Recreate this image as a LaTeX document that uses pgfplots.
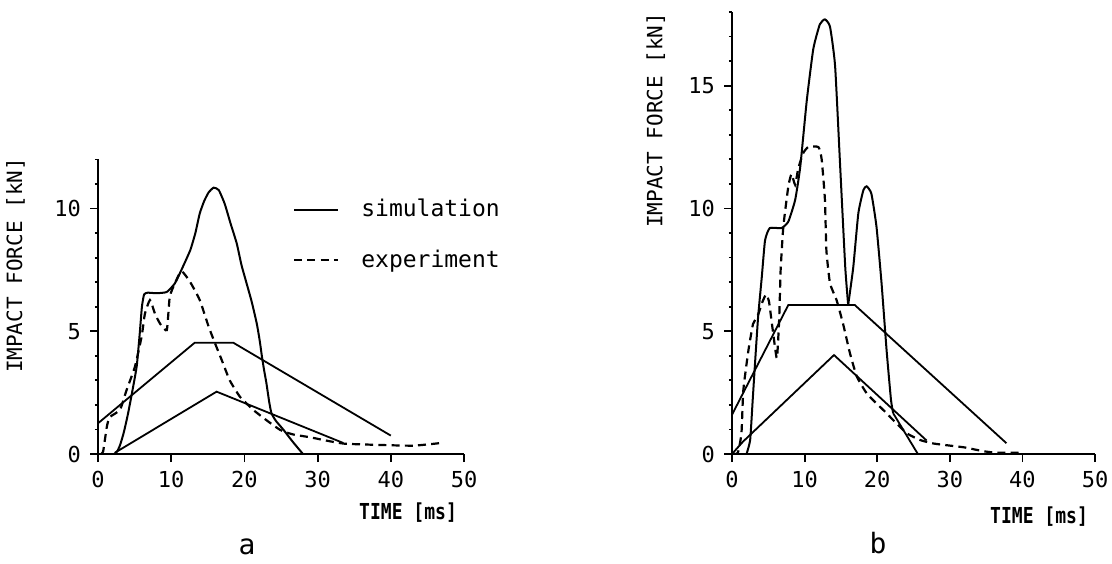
\documentclass[border=0pt]{standalone}
\usepackage{pgfplots}
\pgfplotsset{compat=1.18}
\usepackage{fontspec}
\newfontfamily\plotfont{DejaVu Sans Mono}
\newfontfamily\condfont[FakeStretch=0.82]{DejaVu Sans Mono}

\pgfplotsset{
  impact/.style={
    scale only axis,
    anchor=south west,
    axis x line=bottom,
    axis y line=left,
    x axis line style={-, line width=1.4pt},
    y axis line style={-, line width=1pt},
    xmin=0, xmax=50, ymin=0,
    xtick={0,10,...,50},
    tick align=outside,
    major tick length=4pt,
    minor tick length=1.6pt,
    every tick/.style={black, line width=0.9pt},
    /pgf/number format/assume math mode=true,
    tick label style={font=\plotfont\fontsize{11}{13}\selectfont},
    yticklabel style={xshift=-1pt},
    xticklabel style={yshift=-1pt},
    ylabel={IMPACT FORCE [kN]},
    xlabel={TIME [ms]},
    xlabel style={font=\condfont\bfseries\fontsize{11}{13}\selectfont,
      at={(axis description cs:1,0)}, anchor=north east, yshift=-21pt, xshift=0pt},
    sim/.style={black, line width=1pt, smooth, tension=0.3},
    exp/.style={black, line width=1.1pt, dash pattern=on 4pt off 2.6pt, smooth, tension=0.3},
    ramp/.style={black, line width=0.9pt},
  }
}

\begin{document}
\begin{tikzpicture}
\path[use as bounding box] (0,0) rectangle (556pt,281.5pt);

% ---------------- a ----------------
\begin{axis}[impact,
  at={(49pt,54.5pt)}, width=183pt, height=147.3pt,
  ymax=12, ytick={0,5,10}, minor ytick={0,...,12},
  ylabel style={at={(axis description cs:-0.225,0.64)}, rotate=0, anchor=center,
    font=\plotfont\fontsize{10.5}{12}\selectfont},
  legend style={at={(axis cs:26.6,10.55)}, anchor=north west, draw=none, fill=none,
    font=\plotfont\fontsize{11.5}{13}\selectfont, row sep=11pt, column sep=9pt,
    inner sep=0pt},
  legend cell align=left,
  legend image code/.code={\draw[#1, smooth=false] (0pt,0pt) -- (22pt,0pt);},
]
\addplot[sim] coordinates {
  (2.2,0) (2.6,0.1) (3.0,0.35) (3.5,0.85) (4.0,1.5) (4.4,2.1) (4.9,2.9)
  (5.3,3.6) (5.7,4.9) (6.0,6.0) (6.3,6.5) (6.8,6.57) (8.0,6.55) (9.4,6.6)
  (10.5,6.95) (11.4,7.5) (12.6,8.3) (13.3,9.0) (13.9,9.8) (14.5,10.3)
  (15.1,10.65) (15.8,10.85) (16.5,10.75) (17.3,10.2) (18.1,9.4) (18.95,8.58)
  (19.6,7.7) (20.3,6.95) (21.0,6.2) (21.7,5.3) (22.1,4.6) (22.4,3.96)
  (22.7,3.4) (23.0,2.9) (23.4,2.1) (23.7,1.66) (24.3,1.35) (25.3,1.0)
  (26.6,0.5) (28.0,0)
};
\addlegendentry{simulation}
\addplot[exp] coordinates {
  (0.4,0) (0.7,0.1) (1.2,1.1) (1.6,1.5) (3.0,1.8) (3.9,2.6) (5.05,3.56)
  (5.97,4.8) (6.4,5.7) (7.1,6.27) (7.8,5.7) (8.5,5.3) (9.4,5.05) (9.8,6.4)
  (10.5,6.95) (11.4,7.45) (12.6,7.0) (13.9,6.27) (15.1,5.2) (16.0,4.5)
  (16.9,3.83) (18.0,3.0) (19.4,2.33) (21.2,1.8) (23.0,1.38) (24.9,0.98)
  (26.6,0.8) (29.0,0.68) (31.3,0.54) (33.7,0.42) (38.4,0.37) (43.1,0.34)
  (46.9,0.45)
};
\addlegendentry{experiment}
\addplot[ramp, forget plot] coordinates {(0,1.25) (13.2,4.53) (18.5,4.53) (40,0.75)};
\addplot[ramp, forget plot] coordinates {(2.3,0.05) (16.2,2.54) (33.5,0.45)};
\end{axis}

% ---------------- b ----------------
\begin{axis}[impact,
  at={(366pt,54.5pt)}, width=181.5pt, height=221pt,
  ymax=18, ytick={0,5,10,15}, minor ytick={0,...,18},
  ylabel style={at={(axis description cs:-0.21,0.755)}, rotate=0, anchor=center,
    font=\plotfont\fontsize{10.5}{12}\selectfont},
  xlabel style={yshift=-2pt},
]
\addplot[sim] coordinates {
  (2.0,0) (2.5,0.57) (2.85,2.2) (3.2,3.83) (3.6,5.6) (4.1,7.2) (4.55,8.7)
  (5.2,9.2) (6.8,9.2) (7.75,9.46) (8.7,10.35) (9.4,11.7) (10.3,14.4)
  (11.2,16.5) (12.1,17.5) (12.8,17.7) (13.5,17.4) (14.2,15.8) (14.9,11.7)
  (15.6,7.6) (16.0,6.07)
};
\addplot[sim] coordinates {
  (16.0,6.07) (16.7,7.6) (17.4,9.8) (18.1,10.75) (18.55,10.9) (19.2,10.6)
  (19.9,9.26) (20.6,6.95) (21.3,4.2) (21.9,2.2) (22.2,1.66)
};
\addplot[ramp] coordinates {(22.2,1.66) (25.6,0)};
\addplot[exp] coordinates {
  (0.1,0) (0.8,0.05) (1.3,0.84) (1.56,2.6) (2.25,4.2) (2.9,5.3) (3.5,5.6)
  (4.2,6.2) (4.7,6.5) (5.1,6.2) (5.5,5.3) (5.9,4.4) (6.2,3.9) (6.5,5.5)
  (6.7,7.5) (7.07,9.26) (7.76,10.9) (8.2,11.4) (8.7,10.96) (9.1,11.6)
  (9.8,12.25) (10.5,12.5) (11.9,12.5) (12.35,12.0) (12.8,10.35) (13.0,8.3)
  (13.5,6.95) (14.4,6.27) (15.3,5.3) (16.25,4.1) (17.2,3.15) (18.55,2.47)
  (19.9,2.06) (21.3,1.66) (22.2,1.38) (24.1,0.84) (25.9,0.57) (27.7,0.43)
  (29.5,0.36) (32.0,0.27) (34.5,0.12) (36.4,0.05) (39.3,0.05) (40.0,0.02)
};
\addplot[ramp] coordinates {(0,1.6) (7.76,6.07) (16.9,6.07) (37.8,0.44)};
\addplot[ramp] coordinates {(0,0) (1.5,0.5) (14.05,4.03) (26.8,0.55)};
\end{axis}

\node[font=\plotfont\fontsize{14}{16}\selectfont] at (123.5pt,8pt) {a};
\node[font=\plotfont\fontsize{14}{16}\selectfont] at (439pt,10pt) {b};
\end{tikzpicture}
\end{document}
